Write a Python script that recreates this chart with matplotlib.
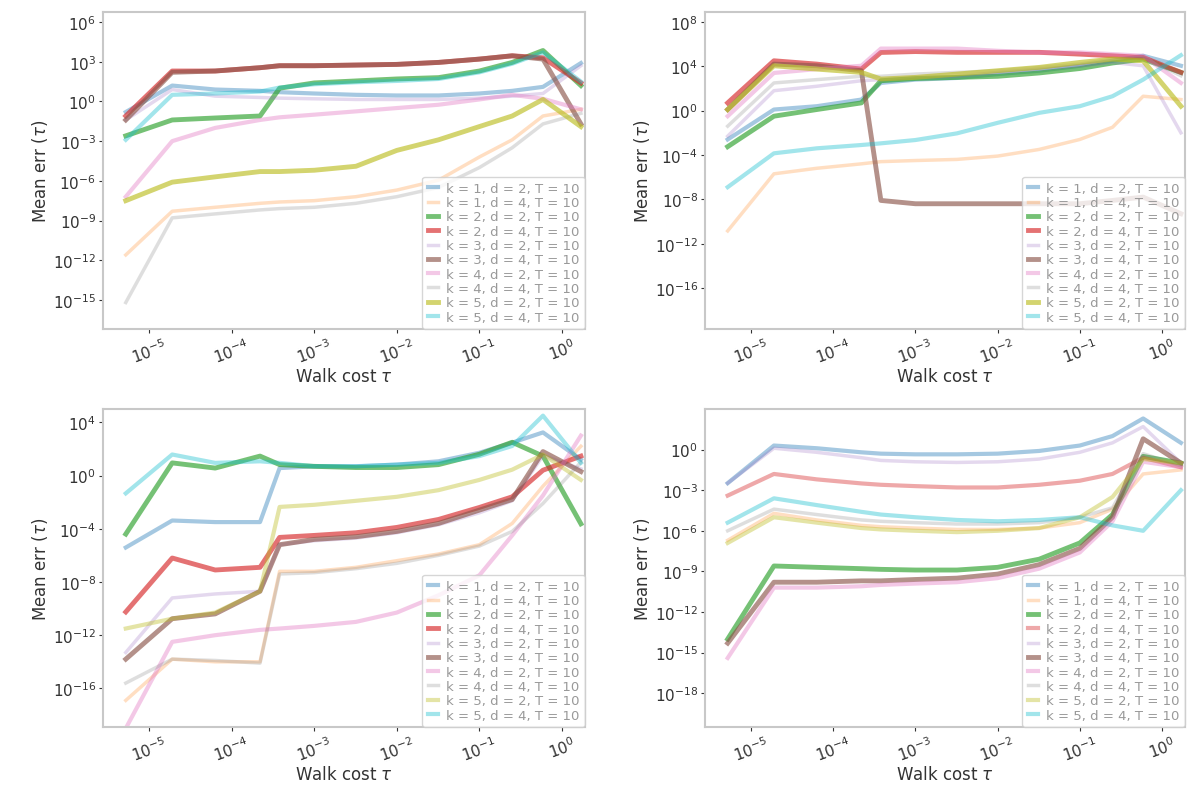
import numpy as np
import matplotlib
matplotlib.use("Agg")
import matplotlib.pyplot as plt
from matplotlib.ticker import NullLocator

# x positions of the sampled points (shared by all panels)
x_vals = [5.2e-6, 1.9e-5, 6.3e-5, 2.2e-4, 3.8e-4, 1e-3, 3.2e-3, 1e-2, 3.2e-2,
          0.1, 0.25, 0.59, 1.7]

series_names = ["blue", "orange", "green", "red", "purple",
                "brown", "pink", "gray", "olive", "cyan"]
legend_labels = ["k = 1, d = 2, T = 10", "k = 1, d = 4, T = 10",
                 "k = 2, d = 2, T = 10", "k = 2, d = 4, T = 10",
                 "k = 3, d = 2, T = 10", "k = 3, d = 4, T = 10",
                 "k = 4, d = 2, T = 10", "k = 4, d = 4, T = 10",
                 "k = 5, d = 2, T = 10", "k = 5, d = 4, T = 10"]

# log10 of the y values
p1 = {
    "blue":   [-0.8, 1.2, 0.9, 0.8, 0.7, 0.6, 0.5, 0.45, 0.45, 0.6, 0.8, 1.1, 2.9],
    "orange": [-11.6, -8.3, -8.0, -7.7, -7.6, -7.5, -7.2, -6.7, -5.95, -4.2, -2.9, -1.1, -0.6],
    "green":  [-2.6, -1.4, -1.25, -1.1, 1.0, 1.4, 1.55, 1.7, 1.8, 2.3, 2.95, 3.85, 1.2],
    "red":    [-1.1, 2.3, 2.3, 2.55, 2.7, 2.7, 2.75, 2.8, 2.95, 3.2, 3.45, 3.3, 1.4],
    "purple": [-1.4, 0.9, 0.4, 0.3, 0.25, 0.2, 0.15, 0.15, 0.15, 0.25, 0.4, 0.6, 2.7],
    "brown":  [-1.4, 2.2, 2.3, 2.55, 2.7, 2.7, 2.75, 2.8, 2.95, 3.2, 3.45, 3.2, -1.7],
    "pink":   [-7.2, -3.0, -2.0, -1.4, -1.2, -1.0, -0.75, -0.5, -0.25, 0.15, 0.5, 0.2, -0.6],
    "gray":   [-15.2, -8.8, -8.5, -8.2, -8.1, -8.0, -7.7, -7.2, -6.5, -5.0, -3.5, -1.7, -0.9],
    "olive":  [-7.5, -6.1, -5.7, -5.3, -5.3, -5.2, -4.9, -3.7, -2.9, -1.9, -1.1, 0.15, -1.9],
    "cyan":   [-2.9, 0.5, 0.6, 0.75, 1.05, 1.3, 1.45, 1.55, 1.7, 2.2, 2.85, 3.7, 1.5],
}
p2 = {
    "blue":   [-2.6, 0.1, 0.4, 1.0, 2.5, 2.8, 2.95, 3.3, 3.6, 4.05, 4.5, 4.95, 4.05],
    "orange": [-10.85, -5.7, -5.2, -4.8, -4.6, -4.5, -4.4, -4.1, -3.5, -2.6, -1.5, 1.3, 1.0],
    "green":  [-3.25, -0.5, 0.1, 0.7, 2.7, 2.9, 3.0, 3.1, 3.4, 3.8, 4.3, 4.65, 3.45],
    "red":    [0.7, 4.5, 4.2, 3.75, 5.25, 5.33, 5.26, 5.26, 5.26, 5.1, 4.95, 4.8, 3.45],
    "purple": [-2.3, 1.8, 2.2, 2.7, 2.8, 3.0, 3.1, 3.45, 3.75, 4.05, 4.35, 4.05, -2.0],
    "brown":  [0.1, 4.2, 4.05, 3.6, -8.1, -8.4, -8.4, -8.4, -8.4, -8.4, -8.1, -7.8, -9.3],
    "pink":   [-0.5, 3.4, 3.75, 4.05, 5.6, 5.6, 5.6, 5.4, 5.25, 5.25, 5.1, 4.95, 2.5],
    "gray":   [-1.4, 2.5, 2.8, 3.1, 3.1, 3.3, 3.45, 3.6, 3.9, 4.2, 4.65, 4.8, 3.15],
    "olive":  [0.1, 4.05, 3.75, 3.45, 2.85, 3.0, 3.3, 3.6, 3.9, 4.35, 4.65, 4.5, 0.4],
    "cyan":   [-6.9, -3.85, -3.4, -3.1, -2.95, -2.65, -2.05, -1.1, -0.2, 0.4, 1.3, 2.8, 5.0],
}
p3 = {
    "blue":   [-5.41, -3.38, -3.5, -3.5, 0.56, 0.69, 0.69, 0.82, 1.07, 1.71, 2.47, 3.24, 1.2],
    "orange": [-16.9, -13.8, -14.0, -14.0, -7.2, -7.2, -6.9, -6.4, -5.9, -5.2, -3.6, -0.8, 2.2],
    "green":  [-4.4, 0.95, 0.56, 1.46, 0.82, 0.69, 0.6, 0.6, 0.82, 1.6, 2.5, 1.46, -3.63],
    "red":    [-10.25, -6.2, -7.1, -6.9, -4.65, -4.5, -4.3, -3.9, -3.3, -2.4, -1.6, 0.4, 1.46],
    "purple": [-13.3, -9.2, -8.9, -8.7, -5.2, -4.9, -4.7, -4.3, -3.7, -2.8, -1.9, 1.5, 0.5],
    "brown":  [-13.8, -10.76, -10.4, -8.7, -5.2, -4.8, -4.6, -4.2, -3.6, -2.6, -1.8, 1.8, 0.3],
    "pink":   [-19.0, -12.5, -12.0, -11.6, -11.5, -11.3, -11.0, -10.3, -9.0, -7.5, -4.5, -1.5, 3.0],
    "gray":   [-15.6, -13.8, -13.9, -14.1, -7.4, -7.3, -7.0, -6.6, -6.0, -5.3, -4.2, -2.1, 1.0],
    "olive":  [-11.5, -10.76, -10.3, -8.7, -2.36, -2.2, -1.9, -1.6, -1.1, -0.33, 0.44, 1.58, -0.33],
    "cyan":   [-1.34, 1.58, 0.95, 1.07, 0.95, 0.7, 0.7, 0.82, 0.95, 1.46, 2.22, 4.5, 0.95],
}
p4 = {
    "blue":   [-2.48, 0.3, 0.1, -0.2, -0.3, -0.35, -0.35, -0.3, -0.1, 0.3, 1.0, 2.3, 0.5],
    "orange": [-6.7, -4.71, -5.2, -5.6, -5.7, -5.8, -5.9, -5.9, -5.8, -5.4, -4.4, -1.8, -1.5],
    "green":  [-14.0, -8.6, -8.7, -8.8, -8.85, -8.9, -8.9, -8.7, -8.1, -6.9, -4.8, -0.5, -1.0],
    "red":    [-3.4, -1.8, -2.2, -2.5, -2.6, -2.7, -2.8, -2.8, -2.6, -2.3, -1.8, -0.6, -1.3],
    "purple": [-2.48, 0.1, -0.2, -0.6, -0.8, -0.9, -0.95, -0.9, -0.7, -0.2, 0.5, 1.7, -0.99],
    "brown":  [-14.3, -9.8, -9.8, -9.7, -9.7, -9.6, -9.5, -9.2, -8.5, -7.3, -5.0, 0.8, -0.99],
    "pink":   [-15.4, -10.2, -10.2, -10.1, -10.0, -9.9, -9.8, -9.5, -8.8, -7.6, -5.3, -0.9, -1.3],
    "gray":   [-6.0, -4.4, -4.8, -5.2, -5.3, -5.4, -5.5, -5.5, -5.4, -5.0, -4.3, -0.3, -1.2],
    "olive":  [-6.9, -5.0, -5.4, -5.8, -5.9, -6.0, -6.1, -6.0, -5.8, -5.0, -3.5, -0.7, -1.0],
    "cyan":   [-5.4, -3.6, -4.1, -4.6, -4.8, -5.0, -5.2, -5.3, -5.2, -5.0, -5.6, -6.0, -3.0],
}

x_ticks = [1e-5, 1e-4, 1e-3, 1e-2, 1e-1, 1e0]
p1_yticks = [1e6, 1e3, 1e0, 1e-3, 1e-6, 1e-9, 1e-12, 1e-15]
p2_yticks = [1e8, 1e4, 1e0, 1e-4, 1e-8, 1e-12, 1e-16]
p3_yticks = [1e4, 1e0, 1e-4, 1e-8, 1e-12, 1e-16]
p4_yticks = [1e0, 1e-3, 1e-6, 1e-9, 1e-12, 1e-15, 1e-18]

panels = [
    (p1, p1_yticks, (10**-17.2, 10**6.76), [103, 13, 585, 330], ["red", "brown", "green", "olive"]),
    (p2, p2_yticks, (10**-19.7, 10**8.9), [705, 13, 1185, 330], ["red", "brown", "green", "olive"]),
    (p3, p3_yticks, (10**-18.9, 10**5.0), [103, 410, 585, 728], ["green", "red", "brown"]),
    (p4, p4_yticks, (10**-20.5, 10**3.0), [705, 410, 1185, 728], ["green", "brown"]),
]
pale = ["orange", "purple", "gray"]

W, H = 1200, 804
fig = plt.figure(figsize=(12, 8.04), dpi=100)

for data, yt, ylim, box, thick in panels:
    l, t, r, b = box
    ax = fig.add_axes([l / W, 1 - b / H, (r - l) / W, (b - t) / H])
    for name, lab in zip(series_names, legend_labels):
        y = 10 ** np.array(data[name])
        if name in thick:
            lw, a = 3.5, 0.65
        elif name in pale:
            lw, a = 2.5, 0.25
        else:
            lw, a = 3.0, 0.4
        ax.plot(x_vals, y, color="tab:" + name, lw=lw, alpha=a, label=lab)
    ax.set_xscale("log")
    ax.set_yscale("log")
    ax.set_xlim(10**-5.56, 10**0.28)
    ax.set_ylim(*ylim)
    ax.set_xticks(x_ticks)
    ax.set_yticks(yt)
    ax.xaxis.set_minor_locator(NullLocator())
    ax.yaxis.set_minor_locator(NullLocator())
    ax.tick_params(labelsize=11, colors="#333333", length=3, pad=2)
    for lbl in ax.get_xticklabels():
        lbl.set_rotation(20)
    for sp in ax.spines.values():
        sp.set_color("#c8c8c8")
        sp.set_linewidth(1.5)
    ax.set_xlabel(r"Walk cost $\tau$", fontsize=12, color="#333333", labelpad=1)
    ax.set_ylabel(r"Mean err $(\tau)$", fontsize=12, color="#333333", labelpad=2)
    leg = ax.legend(loc="lower right", fontsize=9.5, handlelength=0.8,
                    handletextpad=0.6, labelspacing=0.1, borderaxespad=0.0,
                    frameon=True, labelcolor="#999999")
    leg.get_frame().set_edgecolor("#cccccc")

fig.savefig("out.png", dpi=100)
